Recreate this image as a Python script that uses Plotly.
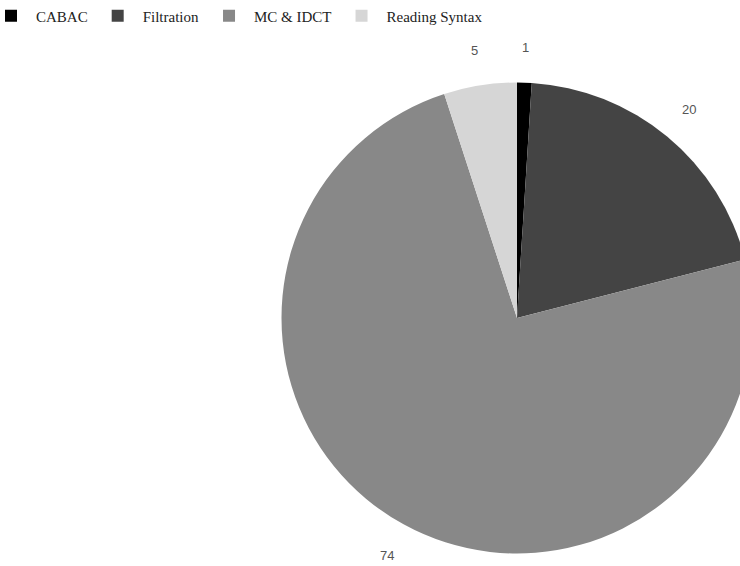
import math
import plotly.graph_objects as go

categories = ["CABAC", "Filtration", "MC & IDCT", "Reading Syntax"]
values = [1, 20, 74, 5]
colors = ["#000000", "#444444", "#888888", "#d6d6d6"]

W, H = 800, 566          # canvas wider than the 740px window: pie is clipped on the right
cx, cy, r = 517, 318, 235.5
label_r = r + 35

fig = go.Figure(go.Pie(
    labels=categories,
    values=values,
    marker=dict(colors=colors, line=dict(width=0)),
    sort=False,
    direction="clockwise",
    rotation=0,
    textinfo="none",
    domain=dict(x=[(cx - r) / W, (cx + r) / W], y=[(H - cy - r) / H, (H - cy + r) / H]),
))

total = sum(values)
cum = 0
for v in values:
    theta = 2 * math.pi * (cum + v / 2) / total
    px = cx + label_r * math.sin(theta)
    py = cy - label_r * math.cos(theta)
    fig.add_annotation(x=px / W, y=1 - py / H, xref="paper", yref="paper",
                       xanchor="center", yanchor="middle",
                       text=str(v), showarrow=False,
                       font=dict(family="Liberation Sans", size=13, color="#555555"))
    cum += v

fig.update_layout(
    width=W, height=H,
    margin=dict(l=0, r=0, t=0, b=0, autoexpand=False),
    paper_bgcolor="white", plot_bgcolor="white",
    showlegend=True,
    legend=dict(orientation="h", x=-0.0175, y=1.001, xanchor="left", yanchor="top",
                font=dict(family="Liberation Serif", size=15, color="#222222"),
                itemwidth=40, traceorder="normal"),
)

fig.write_html("out.html", post_script="document.body.style.overflow='hidden';document.documentElement.style.overflow='hidden';document.body.style.margin='0';")
